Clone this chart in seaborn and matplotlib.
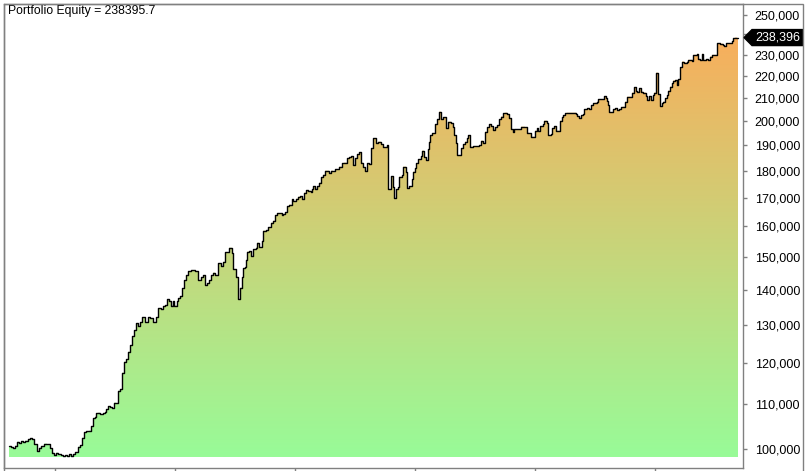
import numpy as np
import pandas as pd
import matplotlib
matplotlib.use("Agg")
import matplotlib.pyplot as plt
import matplotlib.dates as mdates
import matplotlib.transforms as mtransforms
from matplotlib.colors import LinearSegmentedColormap
from matplotlib.patches import Polygon, Rectangle
from matplotlib.ticker import FixedLocator, FuncFormatter, NullLocator, NullFormatter
import seaborn as sns

# ================= DATA =================
# months since Jan 2010 and portfolio equity
months = [
    -4.6, -4.4, -4.2, -4.0, -3.8, -3.6, -3.4, -3.2, -3.0, -2.7, -2.5, -2.3, -2.1, -1.9, -1.8, -1.6,
    -1.4, -1.1, -0.8, -0.5, -0.3, -0.1, 0.1, 0.3, 0.6, 0.8, 1.0, 1.2, 1.4, 1.6, 1.8, 2.0,
    2.3, 2.5, 2.7, 2.9, 3.1, 3.4, 3.6, 3.8, 4.0, 4.1, 4.3, 4.5, 4.8, 5.0, 5.1, 5.3,
    5.5, 5.7, 5.9, 6.1, 6.3, 6.5, 6.7, 6.9, 7.1, 7.3, 7.5, 7.7, 7.9, 8.1, 8.3, 8.5,
    8.7, 9.0, 9.3, 9.5, 9.8, 10.1, 10.3, 10.6, 10.8, 11.0, 11.2, 11.4, 11.6, 11.8, 11.9, 12.2,
    12.3, 12.5, 12.7, 12.9, 13.1, 13.3, 13.6, 14.0, 14.3, 14.6, 14.8, 15.0, 15.2, 15.4, 15.6, 15.8,
    16.0, 16.3, 16.6, 16.8, 17.0, 17.4, 17.7, 17.8, 18.1, 18.3, 18.5, 18.7, 18.8, 19.0, 19.1, 19.2,
    19.4, 19.6, 19.8, 20.1, 20.2, 20.4, 20.7, 20.8, 21.1, 21.3, 21.6, 21.8, 22.0, 22.2, 22.7, 22.8,
    23.0, 23.2, 23.4, 23.7, 23.8, 24.1, 24.3, 24.5, 24.7, 24.9, 25.1, 25.3, 25.6, 25.7, 25.8, 26.0,
    26.2, 26.4, 26.6, 26.8, 27.0, 27.2, 27.4, 27.6, 27.8, 28.0, 28.2, 28.4, 28.7, 28.9, 29.2, 29.4,
    29.6, 29.8, 30.0, 30.2, 30.4, 30.6, 30.8, 31.0, 31.2, 31.4, 31.6, 31.8, 32.1, 32.3, 32.6, 32.8,
    33.0, 33.2, 33.3, 33.6, 33.8, 33.9, 34.1, 34.3, 34.4, 34.7, 34.8, 35.1, 35.2, 35.4, 35.7, 35.8,
    36.0, 36.1, 36.3, 36.6, 36.7, 36.9, 37.1, 37.3, 37.4, 37.5, 37.7, 37.9, 38.0, 38.2, 38.4, 38.6,
    38.8, 39.1, 39.3, 39.6, 39.8, 39.9, 40.1, 40.2, 40.4, 40.6, 40.8, 41.0, 41.2, 41.3, 41.5, 41.8,
    42.2, 42.4, 42.6, 42.8, 43.0, 43.2, 43.4, 43.6, 43.8, 44.0, 44.2, 44.4, 44.6, 44.8, 45.0, 45.2,
    45.4, 45.6, 45.8, 45.9, 46.6, 47.0, 47.2, 47.4, 47.6, 48.0, 48.2, 48.3, 48.5, 48.8, 48.9, 49.2,
    49.3, 49.6, 49.7, 49.9, 50.1, 50.5, 50.7, 50.8, 51.0, 51.2, 52.1, 52.2, 52.4, 52.6, 52.8, 52.9,
    53.2, 53.4, 53.6, 53.8, 54.0, 54.2, 54.3, 54.9, 55.1, 55.2, 55.3, 55.4, 55.8, 56.0, 56.2, 56.4,
    56.6, 56.8, 57.0, 57.2, 57.7, 57.9, 58.1, 58.2, 58.4, 58.6, 58.8, 59.1, 59.2, 59.4, 59.6, 59.8,
    59.9, 60.1, 60.3, 60.5, 60.7, 60.8, 61.0, 61.2, 61.3, 61.5, 61.7, 61.8, 62.0, 62.2, 62.3, 62.5,
    62.7, 62.9, 63.2, 63.3, 63.7, 63.8, 64.2, 64.3, 64.5, 64.7, 64.8, 65.1, 65.3, 65.5, 65.7, 66.2,
    66.5, 66.8, 66.9, 67.1, 67.7, 67.8, 68.0, 68.2, 68.3,
]
equity = [
    100600, 100400, 100200, 100700, 101550, 101200, 101640, 101420, 101770, 102070, 102280, 102130, 101060, 101000, 99580, 100270,
    100630, 101130, 101000, 100150, 99220, 98800, 99220, 98950, 98740, 98530, 98740, 98600, 98890, 98600, 98890, 99300,
    100490, 100850, 102410, 103590, 103870, 103940, 104980, 106700, 107060, 107830, 107970, 107670, 107830, 108190, 108820, 109500,
    109200, 109040, 110270, 110120, 113100, 113500, 117480, 120250, 120850, 122800, 124550, 126950, 128560, 130470, 129650, 130740,
    132130, 130740, 132130, 131850, 130740, 132130, 134620, 134340, 135280, 135470, 137190, 136800, 135360, 136620, 135360, 136620,
    137480, 138150, 140400, 142880, 144400, 145630, 145930, 145630, 142880, 143700, 144310, 141370, 141880, 142880, 144400, 145110,
    144310, 147970, 147170, 148470, 151480, 152960, 151350, 146140, 143890, 137190, 140570, 143700, 146440, 146750, 149130, 151680,
    151900, 150310, 152450, 153020, 154580, 153190, 155230, 158560, 158790, 159700, 161250, 161930, 163780, 164470, 163780, 164230,
    164930, 167040, 167500, 169430, 168820, 169640, 170360, 170610, 169640, 171800, 172780, 172520, 172050, 173030, 174250, 173250,
    174250, 175470, 177480, 178460, 179980, 179980, 179220, 179980, 179750, 180510, 180620, 181500, 182810, 183040, 184750, 185140,
    185650, 182270, 184870, 186440, 187110, 183040, 181270, 179980, 182810, 182540, 188700, 192700, 190930, 191330, 190400, 189090,
    189090, 189890, 173030, 177970, 173760, 169790, 173030, 173760, 177700, 178350, 181500, 179600, 173400, 174250, 176730, 179600,
    180890, 182810, 184360, 185650, 187740, 185140, 184080, 188300, 191330, 194060, 194760, 194760, 198630, 200610, 203840, 200610,
    201460, 196840, 199590, 198910, 197500, 193880, 190930, 186050, 186050, 188700, 190400, 191330, 192700, 194060, 189330, 189600,
    189600, 190010, 191740, 190670, 195400, 197170, 198420, 197660, 196330, 197370, 198210, 200530, 201780, 203150, 203410, 202860,
    201030, 196410, 195400, 196410, 197500, 197250, 194990, 194760, 193330, 195830, 196840, 195830, 197790, 198500, 200010, 199170,
    194060, 194470, 196840, 197790, 195830, 200010, 201460, 202430, 203150, 203410, 202860, 202010, 201030, 202430, 202860, 204870,
    205300, 204870, 206740, 207480, 207740, 208190, 209240, 210710, 209960, 208630, 206740, 203710, 204870, 205300, 204570, 204870,
    205740, 206000, 208190, 210400, 212200, 214650, 213110, 212660, 214200, 212660, 212200, 210710, 209070, 210710, 209070, 211150,
    212200, 221330, 211600, 206310, 207480, 208190, 209700, 211150, 213110, 214930, 216490, 217690, 218010, 215720, 218330, 223950,
    226600, 226120, 226600, 227420, 227090, 229840, 230320, 227760, 227420, 230320, 227420, 227760, 227420, 229020, 229840, 235650,
    235320, 234820, 234010, 235650, 236470, 238180, 238400, 238180, 238396,
]
y_ticks = [100000, 110000, 120000, 130000, 140000, 150000, 160000, 170000,
           180000, 190000, 200000, 210000, 220000, 230000, 240000, 250000]
final_equity = 238395.7
baseline = 98300

# ================= SETUP =================
sns.set_style("white")
plt.rcParams["font.family"] = ["Liberation Sans", "DejaVu Sans"]

start = pd.Timestamp("2010-01-01")
df = pd.DataFrame({"month": months, "equity": equity})
df["date"] = start + pd.to_timedelta(df["month"] * 30.44, unit="D")

fig = plt.figure(figsize=(8.06, 4.71), dpi=100)
ax = fig.add_axes([4 / 806, 3 / 471, 739 / 806, 464 / 471])
ax.set_yscale("log")
ymin, ymax = 96070, 255900

# ================= GRADIENT FILL =================
poly = ax.fill_between(df["date"], df["equity"], baseline, step="post",
                       facecolor="none", edgecolor="none")
span = np.log(ymax) - np.log(ymin)
f0 = (np.log(baseline) - np.log(ymin)) / span
f1 = (np.log(max(equity)) - np.log(ymin)) / span
cmap = LinearSegmentedColormap.from_list("equity", ["#98fb98", "#f8ae5c"])
grad = np.linspace(0, 1, 256).reshape(-1, 1)
im = ax.imshow(grad, cmap=cmap, aspect="auto", origin="lower",
               extent=[0, 1, f0, f1], transform=ax.transAxes, zorder=1)
im.set_clip_path(poly.get_paths()[0], transform=ax.transData)

# ================= LINE =================
sns.lineplot(data=df, x="date", y="equity", ax=ax, color="black", linewidth=1.0,
             drawstyle="steps-post", estimator=None, sort=False, zorder=3)

ax.set_xlim(start + pd.Timedelta(days=-5.1 * 30.44), start + pd.Timedelta(days=68.8 * 30.44))
ax.set_ylim(ymin, ymax)
ax.set_xlabel("")
ax.set_ylabel("")

# ================= AXES STYLE =================
for s in ax.spines.values():
    s.set_color("#808080")
    s.set_linewidth(1)

ax.yaxis.set_major_locator(FixedLocator(y_ticks))
ax.yaxis.set_minor_locator(NullLocator())
ax.yaxis.set_minor_formatter(NullFormatter())
ax.yaxis.set_major_formatter(FuncFormatter(lambda v, p: f"{v:,.0f}"))
ax.tick_params(axis="y", which="major", left=False, right=True, labelleft=False,
               labelright=True, direction="out", length=3, width=1,
               color="#808080", labelsize=9, pad=5.5, labelcolor="black")
ax.xaxis.set_major_locator(mdates.YearLocator())
ax.tick_params(axis="x", bottom=True, labelbottom=False, direction="out",
               length=3, width=1, color="#808080")

# outer frame around the price scale
fig.add_artist(Rectangle((4 / 806, -0.02), 799 / 806, 1 - 4 / 471 + 0.02,
                         transform=fig.transFigure, fill=False,
                         edgecolor="#808080", linewidth=1))

ax.text(0.0054, 0.997, f"Portfolio Equity = {final_equity}", transform=ax.transAxes,
        ha="left", va="top", fontsize=8.8, color="black")

# last value tag
blend = mtransforms.blended_transform_factory(ax.transAxes, ax.transData)
h = np.exp(8 / 473.6)
v = final_equity
tag = Polygon([(1.0014, v), (1.0122, v * h), (1.081, v * h), (1.081, v / h), (1.0122, v / h)],
              closed=True, transform=blend, facecolor="black", edgecolor="black",
              clip_on=False, zorder=5)
ax.add_patch(tag)
ax.text(1.0467, v, f"{final_equity:,.0f}", transform=blend, ha="center", va="center",
        color="white", fontsize=9, zorder=6, clip_on=False)

fig.savefig("out.png", dpi=100)
